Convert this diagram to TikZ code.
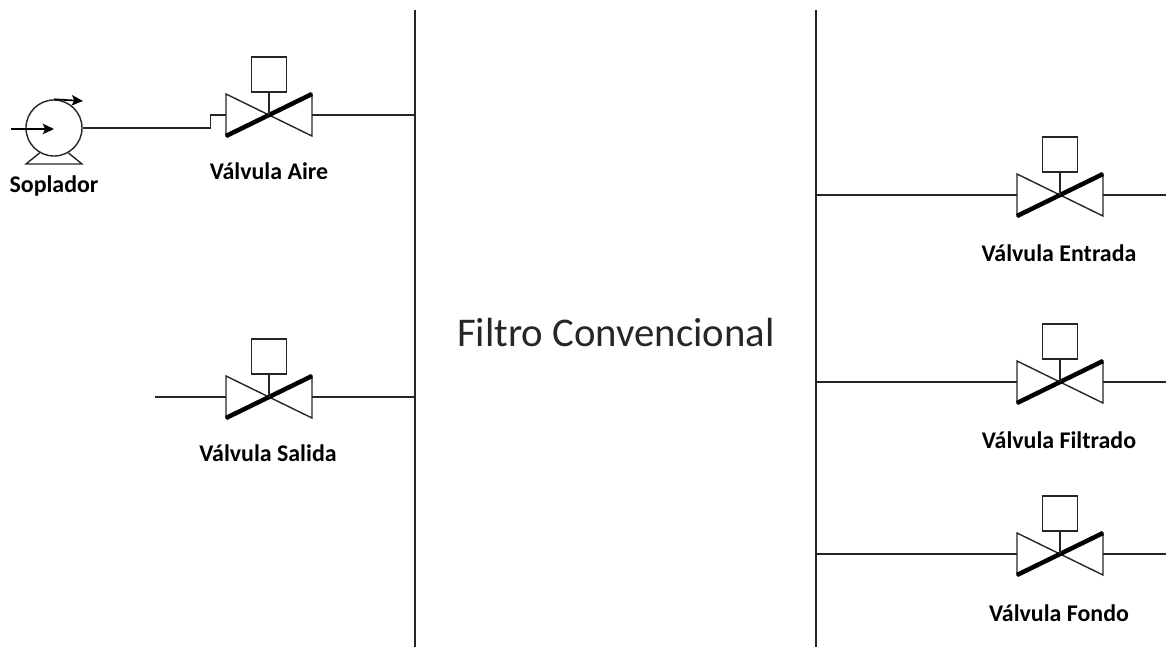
\documentclass[tikz,border=0pt]{standalone}
\usepackage{fontspec}
\usepackage{xcolor}
\setmainfont{Carlito}
\usetikzlibrary{arrows.meta, calc}
\definecolor{pipeGray}{HTML}{262626}

\begin{document}
\begin{tikzpicture}[
    x=0.025cm, y=-0.025cm,
    pipe/.style={draw=pipeGray, line width=1.05pt},
    thin line/.style={draw=pipeGray, line width=1pt},
    flow/.style={-{Stealth[length=2.8mm, width=2.6mm, inset=0.6mm]}, draw=black, line width=1.2pt},
    tag/.style={font=\fontsize{17}{20}\selectfont\bfseries, text=black, inner sep=0pt},
    valve/.pic={
        \draw[thin line, line join=miter] (-43,-21) -- (43,21) -- (43,-21) -- (-43,21) -- cycle;
        \draw[draw=black, line width=3.2pt] (-43,21) -- (43,-21);
        \draw[thin line] (0,0) -- (0,-23);
        \draw[thin line] (-17.5,-58) rectangle (17.5,-23);
        \coordinate (-in) at (-43,0);
        \coordinate (-out) at (43,0);
    },
]
\useasboundingbox (0,0) rectangle (1166,647);

% Vessel walls
\coordinate (wallLeft) at (415,10);
\coordinate (wallLeftEnd) at (415,647);
\coordinate (wallRight) at (816,10);
\coordinate (wallRightEnd) at (816,647);
\draw[pipe] (wallLeft) -- (wallLeftEnd);
\draw[pipe] (wallRight) -- (wallRightEnd);
\node[font=\fontsize{29}{34}\selectfont, text=black!85, inner sep=0pt] (filtro) at (616,332) {Filtro Convencional};

% Blower
\node[circle, draw=pipeGray, line width=1pt, inner sep=0pt, minimum size=1.4cm] (soplador) at (54,128) {};
\coordinate (baseLeft) at (26,164);
\coordinate (baseRight) at (82,164);
\draw[thin line] (soplador.240) -- (baseLeft) -- (baseRight) -- (soplador.300);
\coordinate (intake) at (11,129);
\draw[flow] (intake) -- (soplador.center |- intake);
\coordinate (spinEnd) at (83,101);
\draw[flow] (soplador.north) -- (spinEnd);
\node[tag] (tagSoplador) at (54,186) {Soplador};

% Left valves
\pic (valveAire) at (269,115) {valve};
\node[tag] (tagAire) at (269,171) {Válvula Aire};
\draw[pipe] (soplador.east) -- ++(128,0) |- (valveAire-in);
\draw[pipe] (valveAire-out) -- (valveAire-out -| wallLeft);

\pic (valveSalida) at (269,397) {valve};
\node[tag] (tagSalida) at (268,453) {Válvula Salida};
\coordinate (salidaEnd) at (155,397);
\draw[pipe] (salidaEnd) -- (valveSalida-in);
\draw[pipe] (valveSalida-out) -- (valveSalida-out -| wallLeft);

% Right valves
\pic (valveEntrada) at (1060,195) {valve};
\node[tag] (tagEntrada) at (1059,253) {Válvula Entrada};
\coordinate (entradaEnd) at (1166,195);
\draw[pipe] (valveEntrada-in -| wallRight) -- (valveEntrada-in);
\draw[pipe] (valveEntrada-out) -- (entradaEnd);

\pic (valveFiltrado) at (1060,382) {valve};
\node[tag] (tagFiltrado) at (1059,440) {Válvula Filtrado};
\coordinate (filtradoEnd) at (1166,382);
\draw[pipe] (valveFiltrado-in -| wallRight) -- (valveFiltrado-in);
\draw[pipe] (valveFiltrado-out) -- (filtradoEnd);

\pic (valveFondo) at (1060,554) {valve};
\node[tag] (tagFondo) at (1059,613) {Válvula Fondo};
\coordinate (fondoEnd) at (1166,554);
\draw[pipe] (valveFondo-in -| wallRight) -- (valveFondo-in);
\draw[pipe] (valveFondo-out) -- (fondoEnd);
\end{tikzpicture}
\end{document}
